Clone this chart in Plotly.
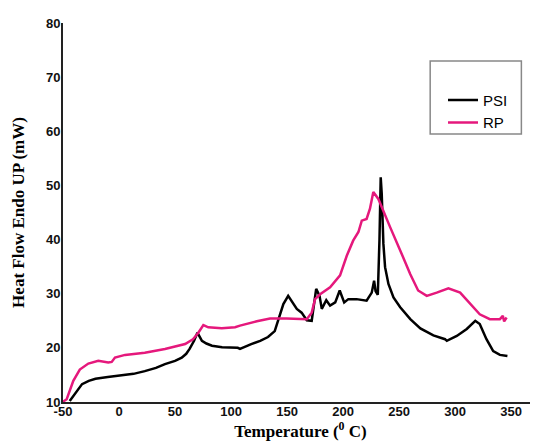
import plotly.graph_objects as go

# PSI (black) curve
psi_x = [-44, -39, -33, -27, -21, -10, 2, 13, 23, 33, 41, 50, 56, 60, 63, 67, 70, 72, 74, 78,
         83, 92, 100, 106, 108, 112, 118, 126, 133, 139, 142, 146.7, 151, 154, 158.7, 163,
         167.6, 172, 173.5, 176, 179, 181, 185, 188.4, 193, 197, 201, 204.7, 212, 221, 225.6,
         227.7, 229, 231, 232.5, 233.6, 234.5, 236, 237.5, 240.5, 245, 251, 260, 269, 280.6,
         291, 292.6, 301.5, 310.4, 318, 322, 328, 334, 340, 346.7]
psi_y = [10.2, 11.7, 13.3, 13.9, 14.3, 14.6, 14.9, 15.2, 15.7, 16.3, 17.0, 17.6, 18.2, 18.9,
         19.8, 21.3, 22.8, 22.0, 21.3, 20.8, 20.4, 20.1, 20.0, 20.0, 19.8, 20.2, 20.7, 21.3,
         22.0, 23.1, 25.0, 28.1, 29.6, 28.7, 27.2, 26.5, 25.1, 25.0, 27.5, 30.9, 29.6, 27.2,
         28.8, 27.8, 28.4, 30.6, 28.4, 29.0, 29.0, 28.7, 30.2, 32.4, 30.5, 29.8, 40.0, 51.5,
         48.5, 39.2, 34.9, 31.8, 29.3, 27.5, 25.3, 23.6, 22.3, 21.6, 21.3, 22.2, 23.5, 25.0,
         24.4, 21.6, 19.4, 18.7, 18.5]

# RP (pink) curve
rp_x = [-50.5, -46.7, -40.8, -35, -27.4, -18.5, -9.6, -6.5, -3.6, 5.4, 23, 41, 59, 66, 70.8,
        75.3, 79.7, 91.7, 103.6, 108, 123, 134.8, 149.7, 167.6, 172, 175, 179.5, 188.4, 197.3,
        203.3, 209, 213.7, 216.7, 221, 224, 227, 231.5, 236, 242, 251, 260, 267, 274.7, 283.6,
        294, 304.5, 313.4, 322, 331, 340, 342.6, 343.8, 346]
rp_y = [10.0, 10.5, 13.9, 16.0, 17.1, 17.6, 17.3, 17.4, 18.2, 18.7, 19.1, 19.8, 20.7, 21.6,
        22.8, 24.2, 23.8, 23.6, 23.8, 24.1, 24.9, 25.4, 25.4, 25.3, 26.5, 29.0, 29.9, 31.2,
        33.4, 37.0, 39.8, 41.4, 43.5, 43.8, 45.7, 48.8, 47.5, 45.4, 42.3, 38.0, 33.6, 30.6,
        29.6, 30.2, 31.0, 30.2, 28.1, 26.2, 25.3, 25.3, 25.9, 24.9, 25.6]

x_ticks = [-50, 0, 50, 100, 150, 200, 250, 300, 350]
y_ticks = [10, 20, 30, 40, 50, 60, 70, 80]

fig = go.Figure()
fig.add_trace(go.Scatter(x=psi_x, y=psi_y, mode="lines", name="PSI",
                         line=dict(color="#000000", width=2.5)))
fig.add_trace(go.Scatter(x=rp_x, y=rp_y, mode="lines", name="RP",
                         line=dict(color="#E5187C", width=2.5)))

tick_font = dict(family="Liberation Sans, Arial", size=13, color="#111111", weight="bold")
title_font = dict(family="Liberation Serif, Times New Roman", size=17, color="black")

# page body has an 8px margin, so the figure is 8px smaller and margins shifted
fig.update_layout(
    width=530, height=434,
    margin=dict(l=55, r=0, t=15, b=40, autoexpand=False),
    paper_bgcolor="white", plot_bgcolor="white",
    showlegend=True,
    legend=dict(x=0.80, y=0.84, xanchor="left", yanchor="top",
                bgcolor="rgba(0,0,0,0)", borderwidth=0,
                font=dict(family="Liberation Sans, Arial", size=15, color="black"),
                tracegroupgap=0),
    shapes=[dict(type="rect", xref="paper", yref="paper",
                 x0=0.773, x1=0.965, y0=0.707, y1=0.90,
                 line=dict(color="#888888", width=1.5))],
)
fig.update_xaxes(range=[-50, 374], tickvals=x_ticks, ticktext=[str(v) for v in x_ticks],
                 showline=True, linecolor="#222222", linewidth=2, showgrid=False,
                 zeroline=False, ticks="", ticklabelstandoff=-4, automargin=False,
                 tickfont=tick_font,
                 title=dict(text="<b>Temperature (<sup>0</sup> C)</b>", standoff=6,
                            font=title_font))
fig.update_yaxes(range=[10, 80], tickvals=y_ticks, ticktext=[str(v) for v in y_ticks],
                 showline=True, linecolor="#222222", linewidth=2, showgrid=False,
                 zeroline=False, ticks="", ticklabelstandoff=-2, automargin=False,
                 tickfont=tick_font,
                 title=dict(text="<b>Heat Flow Endo UP (mW)</b>", standoff=17,
                            font=title_font))

fig.write_html("out.html")
